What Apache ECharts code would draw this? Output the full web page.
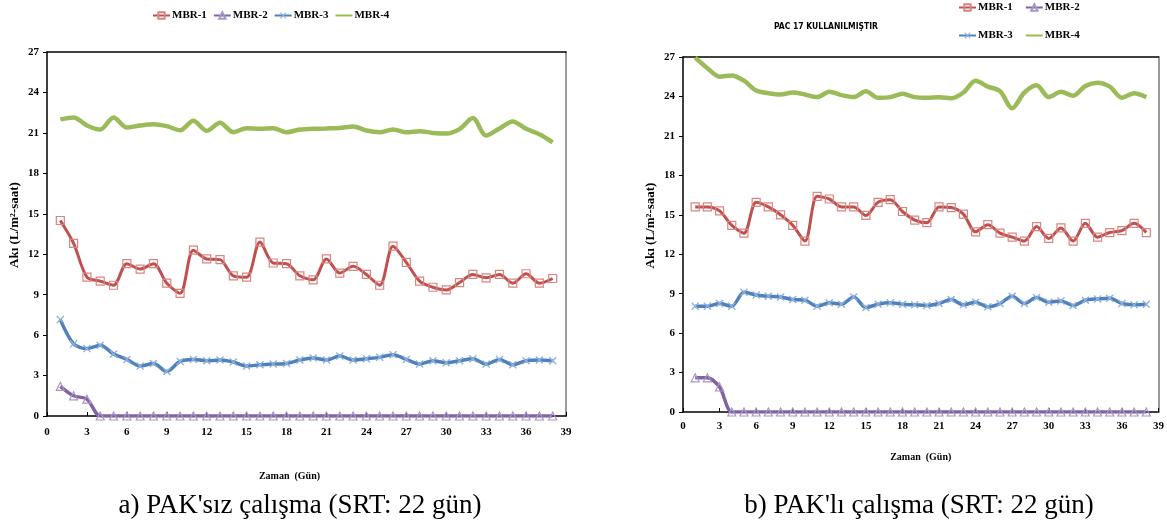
<!DOCTYPE html>
<html>
<head>
<meta charset="utf-8">
<script src="https://cdn.jsdelivr.net/npm/echarts@6/dist/echarts.min.js"></script>
<style>
html,body{margin:0;padding:0;background:#fff;}
#chart{width:1167px;height:525px;}
</style>
</head>
<body>
<div id="chart"></div>
<script>
// ---- data ----
const days = [1,2,3,4,5,6,7,8,9,10,11,12,13,14,15,16,17,18,19,20,21,22,23,24,25,26,27,28,29,30,31,32,33,34,35,36,37,38];
const seriesNames = ['MBR-1','MBR-2','MBR-3','MBR-4'];
const xTicks = [0,3,6,9,12,15,18,21,24,27,30,33,36,39];
const yTicks = [0,3,6,9,12,15,18,21,24,27];

// a) PAK'siz
const a_mbr1 = [14.5,12.8,10.3,10.0,9.7,11.3,10.9,11.3,9.85,9.1,12.3,11.65,11.6,10.4,10.3,12.9,11.35,11.3,10.4,10.1,11.65,10.6,11.1,10.5,9.7,12.6,11.4,10.0,9.55,9.35,9.9,10.5,10.25,10.5,9.85,10.55,9.85,10.2];
const a_mbr2 = [2.2,1.5,1.25,0,0,0,0,0,0,0,0,0,0,0,0,0,0,0,0,0,0,0,0,0,0,0,0,0,0,0,0,0,0,0,0,0,0,0];
const a_mbr3 = [7.15,5.35,5.0,5.25,4.6,4.2,3.7,3.9,3.3,4.05,4.2,4.1,4.15,4.0,3.7,3.8,3.85,3.9,4.15,4.3,4.15,4.45,4.15,4.25,4.35,4.55,4.2,3.85,4.1,3.95,4.1,4.25,3.85,4.2,3.8,4.1,4.15,4.1];
const a_mbr4 = [22.0,22.15,21.55,21.25,22.15,21.4,21.55,21.65,21.5,21.2,21.9,21.15,21.75,21.05,21.35,21.3,21.35,21.05,21.25,21.3,21.33,21.36,21.48,21.18,21.05,21.26,21.05,21.13,21.0,20.95,21.28,22.1,20.8,21.33,21.85,21.3,20.9,20.3];

// b) PAK'li
const b_mbr1 = [15.6,15.6,15.3,14.2,13.6,15.95,15.6,15.0,14.2,13.0,16.4,16.2,15.6,15.6,14.95,15.95,16.15,15.25,14.6,14.4,15.6,15.55,15.05,13.7,14.25,13.6,13.3,13.0,14.1,13.2,14.0,13.0,14.35,13.3,13.65,13.8,14.35,13.65];
const b_mbr2 = [2.6,2.6,1.9,0,0,0,0,0,0,0,0,0,0,0,0,0,0,0,0,0,0,0,0,0,0,0,0,0,0,0,0,0,0,0,0,0,0,0];
const b_mbr3 = [8.05,8.05,8.25,8.05,9.1,8.9,8.8,8.75,8.55,8.5,8.05,8.3,8.2,8.75,7.95,8.2,8.3,8.2,8.15,8.1,8.25,8.55,8.15,8.35,8.0,8.25,8.8,8.25,8.7,8.35,8.45,8.1,8.5,8.6,8.65,8.25,8.15,8.2];
const b_mbr4 = [26.95,26.15,25.5,25.6,25.2,24.45,24.25,24.15,24.3,24.15,23.95,24.35,24.1,23.95,24.4,23.9,23.95,24.2,23.95,23.9,23.93,23.86,24.3,25.2,24.75,24.4,23.1,24.3,24.85,23.95,24.35,24.05,24.8,25.05,24.75,23.9,24.25,23.95];

const titleB = 'PAC 17 KULLANILMIŞTIR';
const captionA = "a) PAK'sız çalışma (SRT: 22 gün)";
const captionB = "b) PAK'lı çalışma (SRT: 22 gün)";
const xName = 'Zaman  (Gün)';
const yName = 'Akı (L/m²-saat)';

// ---- styles ----
const SERIF = '"Liberation Serif","Times New Roman",serif';
const C = {
  red:'#c0504d', redM:'#d98583',
  pur:'#8064a2', purM:'#a896c4',
  blu:'#4f81bd', bluM:'#8fb0da',
  grn:'#9bbb59'
};
const crossPath = 'path://M0,1.2L1.2,0L5,3.8L8.8,0L10,1.2L6.2,5L10,8.8L8.8,10L5,6.2L1.2,10L0,8.8L3.8,5Z';

function pairs(v){ return days.map((d,i)=>[d, v[i]]); }

function mkSeries(gi, vals){
  const xi = gi*2, yi = gi*2;
  const common = {type:'line', xAxisIndex: xi, yAxisIndex: yi, smooth:0.3, z:3};
  return [
    Object.assign({}, common, {name:'MBR-1', data:pairs(vals[0]), symbol:'rect', symbolSize:8,
      lineStyle:{color:C.red,width:3}, itemStyle:{color:'rgba(255,255,255,0)',borderColor:C.redM,borderWidth:1.2}}),
    Object.assign({}, common, {name:'MBR-2', data:pairs(vals[1]), symbol:'triangle', symbolSize:8,
      lineStyle:{color:C.pur,width:3.5}, itemStyle:{color:'rgba(255,255,255,0)',borderColor:C.purM,borderWidth:1.2}}),
    Object.assign({}, common, {name:'MBR-3', data:pairs(vals[2]), symbol:crossPath, symbolSize:8,
      lineStyle:{color:C.blu,width:3.5}, itemStyle:{color:C.bluM}}),
    Object.assign({}, common, {name:'MBR-4', data:pairs(vals[3]), symbol:'none', showSymbol:false,
      lineStyle:{color:C.grn,width:4.5}, itemStyle:{color:C.grn}})
  ];
}

const tickLabel = {fontFamily:SERIF, fontWeight:'bold', fontSize:11, color:'#000'};

function axesFor(gi, xlabMargin, xNameGap, xNamePad){
  const xs = [
    {type:'value', gridIndex:gi, min:0, max:39, interval:3, position:'bottom',
      axisLine:{onZero:false, lineStyle:{color:'#000',width:1.5}},
      axisTick:{show:true, inside:true, length:4, lineStyle:{color:'#000'}},
      axisLabel:Object.assign({margin:xlabMargin}, tickLabel),
      splitLine:{show:false},
      name:xName, nameLocation:'middle', nameGap:xNameGap,
      nameTextStyle:{fontFamily:SERIF, fontWeight:'bold', fontSize:10, color:'#000', padding:xNamePad}},
    {type:'value', gridIndex:gi, min:0, max:39, position:'top',
      axisLine:{onZero:false, lineStyle:{color:'#000',width:1.5}},
      axisTick:{show:false}, axisLabel:{show:false}, splitLine:{show:false}}
  ];
  const ys = [
    {type:'value', gridIndex:gi, min:0, max:27, interval:3, position:'left',
      axisLine:{onZero:false, lineStyle:{color:'#000',width:1.5}},
      axisTick:{show:true, inside:false, length:4, lineStyle:{color:'#000'}},
      axisLabel:Object.assign({margin:8}, tickLabel),
      splitLine:{show:false},
      name:yName, nameLocation:'middle', nameGap:26, nameRotate:90,
      nameTextStyle:{fontFamily:SERIF, fontWeight:'bold', fontSize:13, color:'#000', padding:[0,0,0,18]}},
    {type:'value', gridIndex:gi, min:0, max:27, position:'right',
      axisLine:{onZero:false, lineStyle:{color:'#9a9a9a',width:2}},
      axisTick:{show:false}, axisLabel:{show:false}, splitLine:{show:false}}
  ];
  return {xs, ys};
}

const A = axesFor(0, 11, 55, [0,34,0,0]);
const B = axesFor(1, 9, 40, [0,0,0,0]);

const legendText = {fontFamily:SERIF, fontWeight:'bold', fontSize:11, color:'#000', padding:[0,0,0,-3]};
const legItems = (names)=>names.map(n => n==='MBR-4'
  ? {name:n, itemStyle:{color:'rgba(0,0,0,0)', borderWidth:0}}
  : {name:n});

const option = {
  animation:false,
  backgroundColor:'#fff',
  title:[
    {text:titleB, left:821, top:17, textAlign:'center', textStyle:{fontFamily:'"Liberation Sans Narrow","DejaVu Sans Condensed","Roboto Condensed",sans-serif', fontWeight:'bold', fontSize:8.5, color:'#000'}},
    {text:captionA, left:295, top:487, textAlign:'center', textStyle:{fontFamily:SERIF, fontWeight:'normal', fontSize:27, color:'#000'}},
    {text:captionB, left:914, top:487, textAlign:'center', textStyle:{fontFamily:SERIF, fontWeight:'normal', fontSize:27, color:'#000'}}
  ],
  legend:[
    {data:legItems(seriesNames), left:152, top:10, padding:0, itemWidth:17, itemHeight:8, itemGap:6, textStyle:legendText},
    {data:legItems(['MBR-1','MBR-2']), left:958, top:2, padding:0, itemWidth:17, itemHeight:8, itemGap:12, textStyle:legendText},
    {data:legItems(['MBR-3','MBR-4']), left:958, top:30, padding:0, itemWidth:17, itemHeight:8, itemGap:12, textStyle:legendText}
  ],
  grid:[
    {left:47, top:52, width:519, height:364, show:false},
    {left:683, top:57, width:476, height:355, show:false}
  ],
  xAxis:[A.xs[0], A.xs[1], B.xs[0], B.xs[1]],
  yAxis:[A.ys[0], A.ys[1], B.ys[0], B.ys[1]],
  series:[].concat(
    mkSeries(0, [a_mbr1,a_mbr2,a_mbr3,a_mbr4]),
    mkSeries(1, [b_mbr1,b_mbr2,b_mbr3,b_mbr4])
  )
};

const chart = echarts.init(document.getElementById('chart'), null, {renderer:'canvas'});
chart.setOption(option);
</script>
</body>
</html>
